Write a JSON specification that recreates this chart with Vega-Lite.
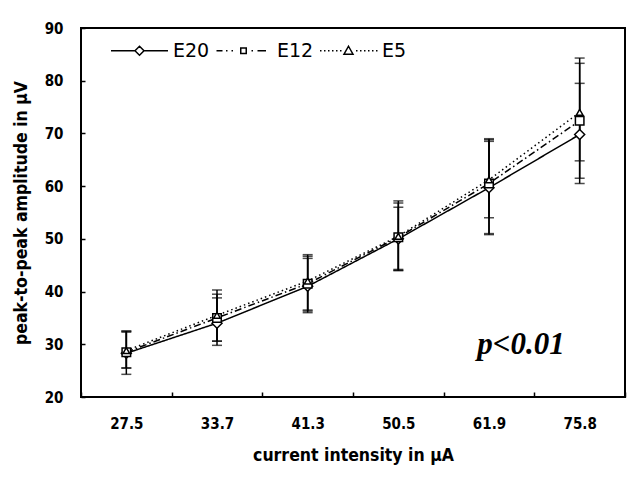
{
  "$schema": "https://vega.github.io/schema/vega-lite/v6.json",
  "width": 544,
  "height": 369,
  "autosize": {"type": "none"},
  "padding": {"left": 81, "top": 28, "right": 5, "bottom": 80},
  "background": "white",
  "config": {
    "view": {"stroke": "black", "strokeWidth": 2},
    "axis": {
      "labelFont": "Liberation Sans Narrow, DejaVu Sans Condensed, sans-serif",
      "labelFontWeight": "bold",
      "labelFontSize": 15,
      "labelColor": "black",
      "titleFont": "DejaVu Sans Condensed, DejaVu Sans, sans-serif",
      "titleFontWeight": "bold",
      "titleFontSize": 17.5,
      "titleColor": "black",
      "tickColor": "black",
      "domain": false,
      "grid": false
    }
  },
  "datasets": {
    "pts": [
      {"x": "27.5", "series": "E20", "mean": 28.3, "low": 24.3, "high": 32.5},
      {"x": "27.5", "series": "E12", "mean": 28.5, "low": 25.5, "high": 32.3},
      {"x": "27.5", "series": "E5", "mean": 28.8, "low": 25.5, "high": 32.5},
      {"x": "33.7", "series": "E20", "mean": 34.0, "low": 29.8, "high": 38.8},
      {"x": "33.7", "series": "E12", "mean": 35.0, "low": 30.6, "high": 39.5},
      {"x": "33.7", "series": "E5", "mean": 35.5, "low": 30.6, "high": 40.3},
      {"x": "41.3", "series": "E20", "mean": 41.0, "low": 36.0, "high": 46.3},
      {"x": "41.3", "series": "E12", "mean": 41.5, "low": 36.3, "high": 46.7},
      {"x": "41.3", "series": "E5", "mean": 42.0, "low": 36.5, "high": 47.0},
      {"x": "50.5", "series": "E20", "mean": 50.0, "low": 44.0, "high": 56.0},
      {"x": "50.5", "series": "E12", "mean": 50.3, "low": 44.0, "high": 56.8},
      {"x": "50.5", "series": "E5", "mean": 50.5, "low": 44.2, "high": 57.2},
      {"x": "61.9", "series": "E20", "mean": 59.7, "low": 50.8, "high": 68.8},
      {"x": "61.9", "series": "E12", "mean": 60.5, "low": 51.0, "high": 68.5},
      {"x": "61.9", "series": "E5", "mean": 61.2, "low": 54.0, "high": 69.0},
      {"x": "75.8", "series": "E20", "mean": 69.8, "low": 60.5, "high": 79.5},
      {"x": "75.8", "series": "E12", "mean": 72.4, "low": 61.5, "high": 83.3},
      {"x": "75.8", "series": "E5", "mean": 74.0, "low": 64.8, "high": 84.3}
    ],
    "note": [{"x": "61.9", "y": 29.9, "label": "p<0.01"}]
  },
  "resolve": {"scale": {"shape": "independent"}, "legend": {"shape": "independent"}},
  "layer": [
    {
      "data": {"name": "pts"},
      "mark": {"type": "rule", "color": "black", "strokeWidth": 1.5},
      "encoding": {
        "x": {"field": "x", "type": "nominal", "sort": ["27.5", "33.7", "41.3", "50.5", "61.9", "75.8"],
              "scale": {"paddingInner": 0, "paddingOuter": 0},
              "axis": {"title": "current intensity in μA", "labelAngle": 0, "tickBand": "extent", "tickSize": -5, "tickWidth": 1.5, "labelPadding": 24, "titlePadding": 15}},
        "y": {"field": "low", "type": "quantitative",
              "scale": {"domain": [20, 90], "nice": false, "zero": false},
              "axis": {"title": "peak-to-peak amplitude in μV", "values": [20, 30, 40, 50, 60, 70, 80, 90], "tickSize": -4, "tickWidth": 1.5, "labelPadding": 22, "titlePadding": 14}},
        "y2": {"field": "high"}
      }
    },
    {
      "data": {"name": "pts"},
      "mark": {"type": "tick", "color": "black", "size": 10, "thickness": 1.5},
      "encoding": {
        "x": {"field": "x", "type": "nominal", "sort": ["27.5", "33.7", "41.3", "50.5", "61.9", "75.8"]},
        "y": {"field": "low", "type": "quantitative"}
      }
    },
    {
      "data": {"name": "pts"},
      "mark": {"type": "tick", "color": "black", "size": 10, "thickness": 1.5},
      "encoding": {
        "x": {"field": "x", "type": "nominal", "sort": ["27.5", "33.7", "41.3", "50.5", "61.9", "75.8"]},
        "y": {"field": "high", "type": "quantitative"}
      }
    },
    {
      "data": {"name": "pts"},
      "mark": {"type": "line", "color": "black", "strokeWidth": 1.5},
      "encoding": {
        "x": {"field": "x", "type": "nominal", "sort": ["27.5", "33.7", "41.3", "50.5", "61.9", "75.8"]},
        "y": {"field": "mean", "type": "quantitative"},
        "detail": {"field": "series"},
        "strokeDash": {"field": "series", "type": "nominal",
                       "scale": {"domain": ["E20", "E12", "E5"], "range": [[1, 0], [7, 3, 1.5, 3], [1.5, 3]]},
                       "legend": null}
      }
    },
    {
      "data": {"name": "pts"},
      "mark": {"type": "point", "filled": false, "fill": "white", "color": "black", "strokeWidth": 1.5, "opacity": 1},
      "encoding": {
        "x": {"field": "x", "type": "nominal", "sort": ["27.5", "33.7", "41.3", "50.5", "61.9", "75.8"]},
        "y": {"field": "mean", "type": "quantitative"},
        "shape": {"field": "series", "type": "nominal",
                  "scale": {"domain": ["E20", "E12", "E5"], "range": ["diamond", "square", "triangle-up"]},
                  "legend": null},
        "size": {"field": "series", "type": "nominal",
                 "scale": {"domain": ["E20", "E12", "E5"], "range": [100, 45, 70]},
                 "legend": null}
      }
    },
    {
      "data": {"name": "pts"},
      "transform": [{"filter": "datum.x == '27.5'"}],
      "mark": {"type": "point", "filled": false, "color": "black", "opacity": 0, "size": 100},
      "encoding": {
        "x": {"field": "x", "type": "nominal", "sort": ["27.5", "33.7", "41.3", "50.5", "61.9", "75.8"]},
        "y": {"field": "mean", "type": "quantitative"},
        "shape": {"field": "series", "type": "nominal",
                  "scale": {"domain": ["E20", "E12", "E5"],
                            "range": [
                              "M-5.7,0L-0.9,0M0.9,0L5.7,0M0,-0.9L0.9,0L0,0.9L-0.9,0Z",
                              "M-5.4,0L-4.2,0M-3.5,0L-3.2,0M-2.4,0L-2.1,0M-0.55,-0.55L0.55,-0.55L0.55,0.55L-0.55,0.55ZM1.6,0L1.9,0M2.8,0L4.5,0",
                              "M-5.7,0L-5.4,0M-4.9,0L-4.6,0M-4.1,0L-3.8,0M-3.3,0L-3,0M-2.5,0L-2.2,0M-1.7,0L-1.4,0M0,-0.9L0.9,0.7L-0.9,0.7ZM1.5,0L1.8,0M2.3,0L2.6,0M3.1,0L3.4,0M3.9,0L4.2,0M4.7,0L5,0M5.5,0L5.8,0"
                            ]},
                  "legend": {
                    "title": null, "orient": "none", "legendX": 49, "legendY": 13,
                    "direction": "horizontal", "columns": 3, "columnPadding": 3,
                    "symbolSize": 100, "symbolStrokeWidth": 1.5, "symbolStrokeColor": "black", "symbolFillColor": "white", "symbolOpacity": 1,
                    "labelFont": "DejaVu Sans, sans-serif", "labelFontSize": 19, "labelColor": "black", "labelOffset": 24,
                    "encode": {"symbols": {"update": {"opacity": {"value": 1}, "stroke": {"value": "black"}, "fill": {"value": "white"}, "strokeWidth": {"value": 1.5}}}}
                  }}
      }
    },
    {
      "data": {"name": "note"},
      "mark": {"type": "text", "font": "Liberation Serif, serif", "fontStyle": "italic", "fontWeight": "bold", "fontSize": 31, "align": "center", "baseline": "middle", "dx": 32, "color": "black"},
      "encoding": {
        "x": {"field": "x", "type": "nominal", "sort": ["27.5", "33.7", "41.3", "50.5", "61.9", "75.8"]},
        "y": {"field": "y", "type": "quantitative"},
        "text": {"field": "label"}
      }
    }
  ]
}
